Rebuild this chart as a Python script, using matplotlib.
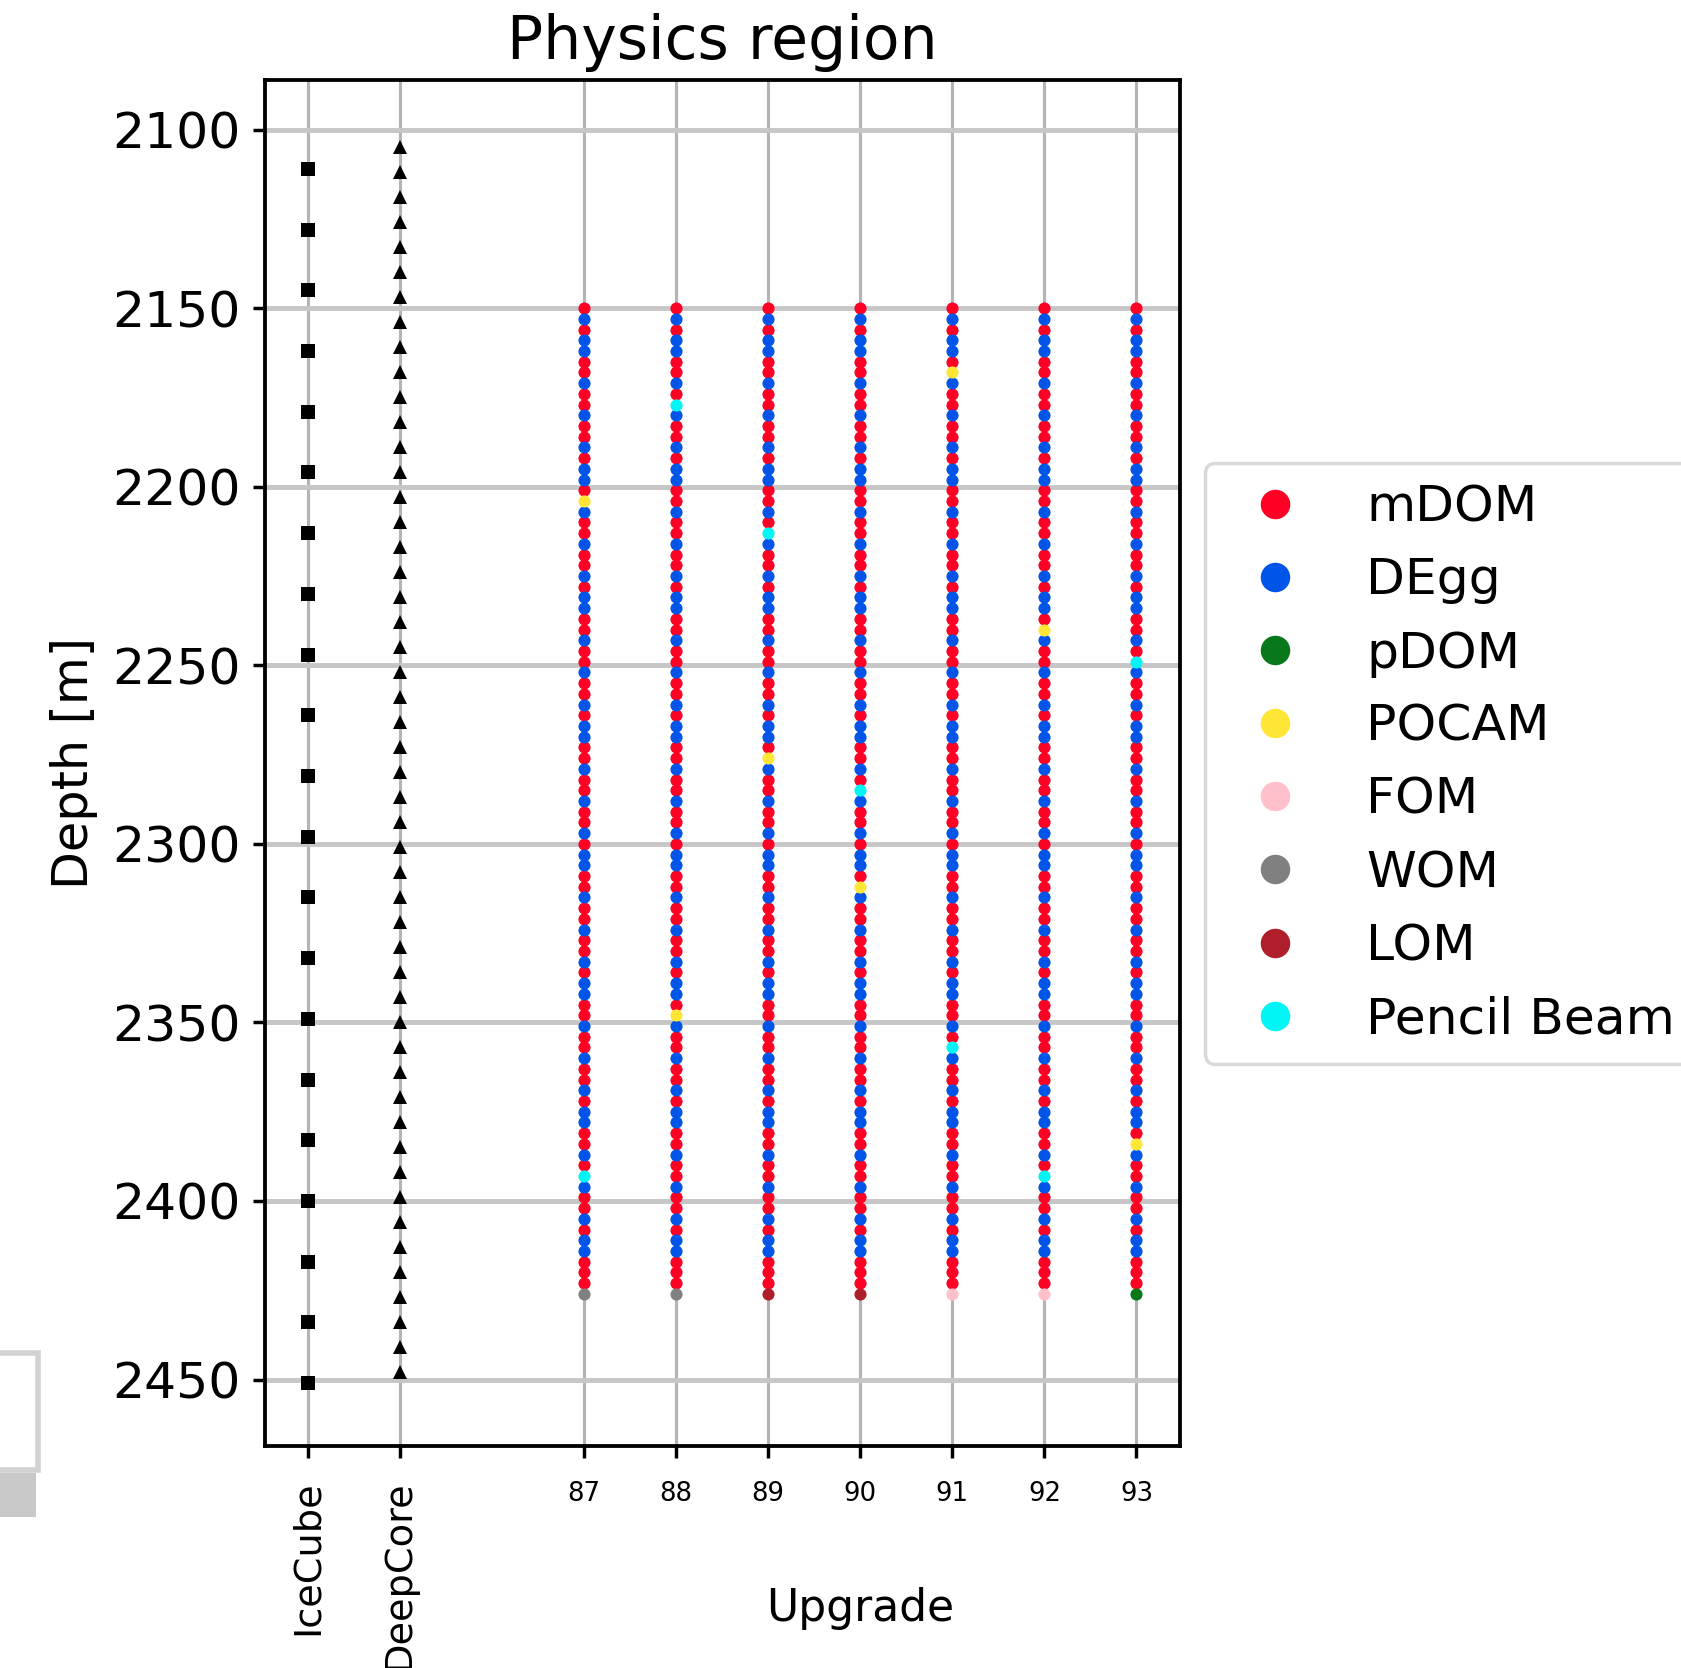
import matplotlib
matplotlib.use("Agg")
import matplotlib.pyplot as plt
from matplotlib.lines import Line2D
from matplotlib.patches import Rectangle
from matplotlib.transforms import blended_transform_factory

# x slots on the category axis (None = empty gap)
X_SLOTS = ["IceCube", "DeepCore", None, "87", "88", "89", "90", "91", "92", "93"]
UPGRADE_STRINGS = ["87", "88", "89", "90", "91", "92", "93"]

ICECUBE_DEPTHS = [2111, 2128, 2145, 2162, 2179, 2196, 2213, 2230, 2247, 2264, 2281,
                  2298, 2315, 2332, 2349, 2366, 2383, 2400, 2417, 2434, 2451]

DEEPCORE_DEPTHS = [2105, 2112, 2119, 2126, 2133, 2140, 2147, 2154, 2161, 2168,
                   2175, 2182, 2189, 2196, 2203, 2210, 2217, 2224, 2231, 2238,
                   2245, 2252, 2259, 2266, 2273, 2280, 2287, 2294, 2301, 2308,
                   2315, 2322, 2329, 2336, 2343, 2350, 2357, 2364, 2371, 2378,
                   2385, 2392, 2399, 2406, 2413, 2420, 2427, 2434, 2441, 2448]

UPGRADE_DEPTHS = [2150, 2153, 2156, 2159, 2162, 2165, 2168, 2171, 2174, 2177,
                  2180, 2183, 2186, 2189, 2192, 2195, 2198, 2201, 2204, 2207,
                  2210, 2213, 2216, 2219, 2222, 2225, 2228, 2231, 2234, 2237,
                  2240, 2243, 2246, 2249, 2252, 2255, 2258, 2261, 2264, 2267,
                  2270, 2273, 2276, 2279, 2282, 2285, 2288, 2291, 2294, 2297,
                  2300, 2303, 2306, 2309, 2312, 2315, 2318, 2321, 2324, 2327,
                  2330, 2333, 2336, 2339, 2342, 2345, 2348, 2351, 2354, 2357,
                  2360, 2363, 2366, 2369, 2372, 2375, 2378, 2381, 2384, 2387,
                  2390, 2393, 2396, 2399, 2402, 2405, 2408, 2411, 2414, 2417,
                  2420, 2423, 2426]

# module type per depth, top to bottom
# R=mDOM B=DEgg P=pDOM Y=POCAM F=FOM W=WOM L=LOM C=Pencil Beam
STRING_MODULES = {
    "87": ("RB" "RBBRRBRRBRRB" "RBBRYBRRBRRB" "RBBRRBRRBRRB" "RBBRRBRRBRRB"
           "RBBRRBRRBRRB" "RBBRRBRRBRRB" "RBBRRBRCBRRB" "RBBRRR" "W"),
    "88": ("RB" "RBBRRBRCBRRB" "RBBRRBRRBRRB" "RBBRRBRRBRRB" "RBBRRBRRBRRB"
           "RBBRRBRRBRRB" "RBBRYBRRBRRB" "RBBRRBRRBRRB" "RBBRRR" "W"),
    "89": ("RB" "RBBRRBRRBRRB" "RBBRRBRCBRRB" "RBBRRBRRBRRB" "RBBRYBRRBRRB"
           "RBBRRBRRBRRB" "RBBRRBRRBRRB" "RBBRRBRRBRRB" "RBBRRR" "L"),
    "90": ("RB" "RBBRRBRRBRRB" "RBBRRBRRBRRB" "RBBRRBRRBRRB" "RBBRRBRCBRRB"
           "RBBRYBRRBRRB" "RBBRRBRRBRRB" "RBBRRBRRBRRB" "RBBRRR" "L"),
    "91": ("RB" "RBBRYBRRBRRB" "RBBRRBRRBRRB" "RBBRRBRRBRRB" "RBBRRBRRBRRB"
           "RBBRRBRRBRRB" "RBBRRBRCBRRB" "RBBRRBRRBRRB" "RBBRRR" "F"),
    "92": ("RB" "RBBRRBRRBRRB" "RBBRRBRRBRRB" "RBBRYBRRBRRB" "RBBRRBRRBRRB"
           "RBBRRBRRBRRB" "RBBRRBRRBRRB" "RBBRRBRCBRRB" "RBBRRR" "F"),
    "93": ("RB" "RBBRRBRRBRRB" "RBBRRBRRBRRB" "RBBRRBRCBRRB" "RBBRRBRRBRRB"
           "RBBRRBRRBRRB" "RBBRRBRRBRRB" "RBBRYBRRBRRB" "RBBRRR" "P"),
}

MODULE_TYPES = ["mDOM", "DEgg", "pDOM", "POCAM", "FOM", "WOM", "LOM", "Pencil Beam"]
MODULE_CODES = ["R", "B", "P", "Y", "F", "W", "L", "C"]

COLORS = {
    "mDOM": "#ff0024",
    "DEgg": "#0055e8",
    "pDOM": "#08781a",
    "POCAM": "#ffe535",
    "FOM": "#ffbfcb",
    "WOM": "#808080",
    "LOM": "#ae1f2b",
    "Pencil Beam": "#00f5f5",
}

DPI = 250
fig = plt.figure(figsize=(1681 / DPI, 1668 / DPI), dpi=DPI)
ax = fig.add_axes([0.1576, 0.1331, 0.5444, 0.8188])

ax.plot([X_SLOTS.index("IceCube")] * len(ICECUBE_DEPTHS), ICECUBE_DEPTHS,
        "s", color="black", markersize=4.0, markeredgewidth=0, zorder=3)
ax.plot([X_SLOTS.index("DeepCore")] * len(DEEPCORE_DEPTHS), DEEPCORE_DEPTHS,
        "^", color="black", markersize=4.0, markeredgewidth=0, zorder=3)

for name in UPGRADE_STRINGS:
    xpos = X_SLOTS.index(name)
    codes = STRING_MODULES[name]
    for mtype, code in zip(MODULE_TYPES, MODULE_CODES):
        depths = [d for d, c in zip(UPGRADE_DEPTHS, codes) if c == code]
        if depths:
            ax.plot([xpos] * len(depths), depths, "o", color=COLORS[mtype],
                    markersize=3.5, markeredgewidth=0, zorder=3)

ax.set_ylim(2468.6, 2086.2)
ax.set_xlim(-0.463, 9.473)
ax.set_yticks([2100, 2150, 2200, 2250, 2300, 2350, 2400, 2450])
ax.tick_params(axis="y", labelsize=14.5, length=3.5, width=1.0)
ax.tick_params(axis="x", length=3.5, width=1.0, pad=6.5)

xt = [i for i, s in enumerate(X_SLOTS) if s is not None]
ax.set_xticks(xt)
ax.set_xticklabels([X_SLOTS[i] for i in xt])
for i, lbl in enumerate(ax.get_xticklabels()):
    if i < 2:
        lbl.set_rotation(90)
        lbl.set_fontsize(11)
    else:
        lbl.set_fontsize(7.5)

ax.set_axisbelow(True)
ax.grid(True, axis="y", color="#c6c6c6", linewidth=1.4)
ax.grid(True, axis="x", color="#b4b4b4", linewidth=0.9)
for sp in ax.spines.values():
    sp.set_linewidth(1.1)
    sp.set_color("black")

ax.set_title("Physics region", fontsize=17.3)
ax.set_ylabel("Depth [m]", fontsize=14.2, labelpad=4)
trans = blended_transform_factory(ax.transData, ax.transAxes)
ax.text(X_SLOTS.index("90"), -0.119, "Upgrade", transform=trans,
        ha="center", va="center", fontsize=12.7)

handles = [Line2D([], [], marker="o", linestyle="none", color=COLORS[m],
                  markersize=8.5, markeredgewidth=0) for m in MODULE_TYPES]
fig.legend(handles, MODULE_TYPES, loc="upper left",
           bbox_to_anchor=(0.7168, 0.7224), borderaxespad=0, fontsize=14.5,
           labelspacing=0.5, frameon=True, edgecolor="#d0d0d0")

# cut-off piece of a neighbouring legend in the lower left corner
fig.add_artist(Rectangle((-0.01, 0.1187), 0.0326, 0.0701, transform=fig.transFigure,
                         facecolor="white", edgecolor="#d2d2d2", linewidth=1.6))
fig.add_artist(Rectangle((-0.01, 0.0905), 0.0316, 0.0262, transform=fig.transFigure,
                         facecolor="#c8c8c8", edgecolor="none"))

fig.savefig("out.png", dpi=DPI)
